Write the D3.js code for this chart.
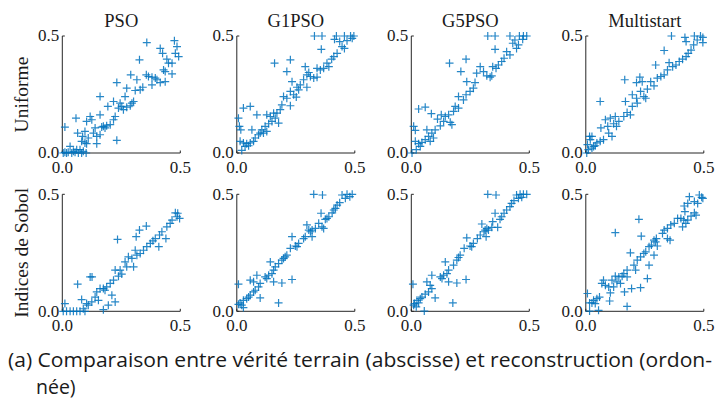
<!DOCTYPE html>
<html>
<head>
<meta charset="utf-8">
<style>
  body { margin: 0; background: #fff; }
  .title, .tick-label, .row-label { font-family: "Liberation Serif", serif; fill: #1a1a1a; }
  .caption { font-family: "Open Sans", sans-serif; fill: #1a1a1a; }
  .marker { fill: none; stroke: #0072BD; stroke-width: 1.2; stroke-opacity: 0.85; }
  .axis-line { stroke: #262626; stroke-width: 1; fill: none; }
</style>
<script src="https://d3js.org/d3.v7.min.js"></script>
</head>
<body>
<div id="chart"></div>
<script>

// column titles and row labels
var methods = ["PSO", "G1PSO", "G5PSO", "Multistart"];
var rowLabels = ["Uniforme", "Indices de Sobol"];
var tickValues = [0, 0.5];
var tickLabels = ["0.0", "0.5"];

// [vérité terrain, reconstruction]
var psoUniforme = [
  [0.358,0.472],[0.475,0.480],[0.486,0.455],[0.415,0.447],[0.425,0.426],[0.327,0.398],[0.443,0.401],
  [0.479,0.426],[0.493,0.412],[0.450,0.384],[0.465,0.384],[0.429,0.355],[0.436,0.348],[0.465,0.338],
  [0.356,0.334],[0.365,0.327],[0.380,0.324],[0.394,0.320],[0.401,0.313],[0.290,0.334],[0.316,0.313],
  [0.415,0.301],[0.436,0.305],[0.380,0.291],[0.231,0.301],[0.341,0.281],[0.330,0.270],[0.309,0.267],
  [0.273,0.277],[0.266,0.241],[0.160,0.241],[0.217,0.220],[0.245,0.213],[0.238,0.192],[0.252,0.199],
  [0.259,0.185],[0.273,0.196],[0.288,0.202],[0.295,0.213],[0.302,0.220],[0.193,0.199],[0.118,0.156],
  [0.125,0.142],[0.160,0.163],[0.058,0.149],[0.217,0.142],[0.224,0.156],[0.203,0.121],[0.188,0.116],
  [0.181,0.107],[0.174,0.114],[0.167,0.111],[0.139,0.107],[0.103,0.135],[0.096,0.092],[0.132,0.085],
  [0.160,0.078],[0.146,0.071],[0.110,0.064],[0.086,0.071],[0.065,0.085],[0.011,0.111],[0.082,0.050],
  [0.096,0.043],[0.103,0.040],[0.146,0.040],[0.231,0.054],[0.033,0.028],[0.075,0.014],[0.089,0.007],
  [0.011,0.003],[0.025,0.003],[0.040,0.000],[0.054,0.003],[0.068,0.000],[0.082,0.000],[0.101,0.000],
  [0.018,0.000],[0.004,0.000],[0.047,0.007],[0.061,0.014]
];
var g1psoUniforme = [
  [0.329,0.500],[0.361,0.500],[0.422,0.500],[0.456,0.500],[0.482,0.500],[0.496,0.500],[0.489,0.490],
  [0.414,0.486],[0.436,0.476],[0.467,0.480],[0.446,0.455],[0.456,0.447],[0.358,0.443],[0.425,0.426],
  [0.411,0.412],[0.402,0.401],[0.160,0.384],[0.227,0.398],[0.382,0.384],[0.390,0.369],[0.368,0.362],
  [0.340,0.362],[0.354,0.355],[0.212,0.348],[0.290,0.369],[0.305,0.344],[0.297,0.334],[0.312,0.327],
  [0.326,0.320],[0.340,0.324],[0.283,0.313],[0.234,0.305],[0.269,0.291],[0.255,0.281],[0.262,0.270],
  [0.227,0.263],[0.241,0.249],[0.252,0.239],[0.198,0.241],[0.212,0.234],[0.227,0.202],[0.191,0.206],
  [0.184,0.185],[0.170,0.170],[0.156,0.170],[0.028,0.192],[0.057,0.199],[0.085,0.163],[0.127,0.163],
  [0.142,0.156],[0.163,0.149],[0.177,0.128],[0.149,0.135],[0.135,0.125],[0.120,0.114],[0.106,0.099],
  [0.099,0.085],[0.092,0.078],[0.064,0.099],[0.078,0.064],[0.071,0.050],[0.057,0.043],[0.042,0.040],
  [0.028,0.043],[0.014,0.050],[0.035,0.028],[0.050,0.031],[0.007,0.149],[0.011,0.114],[0.017,0.099],
  [0.021,0.011],[0.113,0.085],[0.127,0.092],[0.297,0.281]
];
var g5psoUniforme = [
  [0.324,0.500],[0.355,0.500],[0.418,0.500],[0.458,0.500],[0.475,0.500],[0.489,0.500],[0.439,0.483],
  [0.430,0.469],[0.472,0.486],[0.454,0.462],[0.446,0.447],[0.355,0.443],[0.404,0.433],[0.418,0.419],
  [0.393,0.405],[0.383,0.391],[0.162,0.384],[0.232,0.401],[0.369,0.376],[0.345,0.369],[0.359,0.362],
  [0.210,0.348],[0.292,0.369],[0.306,0.348],[0.277,0.341],[0.320,0.330],[0.334,0.324],[0.341,0.330],
  [0.235,0.305],[0.270,0.301],[0.263,0.277],[0.249,0.263],[0.232,0.249],[0.200,0.241],[0.221,0.227],
  [0.186,0.199],[0.200,0.192],[0.179,0.178],[0.158,0.163],[0.144,0.156],[0.127,0.163],[0.031,0.188],
  [0.059,0.196],[0.085,0.168],[0.111,0.145],[0.137,0.135],[0.165,0.131],[0.172,0.121],[0.123,0.116],
  [0.101,0.099],[0.087,0.085],[0.073,0.071],[0.066,0.099],[0.059,0.057],[0.045,0.045],[0.031,0.040],
  [0.017,0.050],[0.038,0.028],[0.010,0.114],[0.017,0.097],[0.021,0.014],[0.003,0.000],[0.080,0.050],
  [0.094,0.064]
];
var multistartUniforme = [
  [0.363,0.500],[0.420,0.494],[0.460,0.500],[0.486,0.500],[0.496,0.494],[0.425,0.476],[0.472,0.483],
  [0.496,0.472],[0.457,0.462],[0.446,0.440],[0.332,0.438],[0.434,0.426],[0.425,0.412],[0.410,0.401],
  [0.396,0.391],[0.296,0.376],[0.353,0.386],[0.382,0.376],[0.368,0.369],[0.346,0.355],[0.332,0.334],
  [0.318,0.327],[0.303,0.320],[0.229,0.324],[0.165,0.313],[0.215,0.301],[0.239,0.305],[0.275,0.305],
  [0.289,0.287],[0.261,0.273],[0.232,0.263],[0.254,0.234],[0.246,0.241],[0.215,0.234],[0.197,0.249],
  [0.168,0.220],[0.218,0.213],[0.061,0.220],[0.197,0.199],[0.175,0.173],[0.189,0.163],[0.161,0.156],
  [0.125,0.156],[0.104,0.149],[0.083,0.142],[0.140,0.135],[0.118,0.125],[0.130,0.114],[0.093,0.114],
  [0.064,0.107],[0.097,0.085],[0.111,0.071],[0.075,0.057],[0.061,0.050],[0.047,0.043],[0.033,0.028],
  [0.016,0.071],[0.007,0.036],[0.026,0.071],[0.011,0.014],[0.026,0.021],[0.040,0.031],[0.004,0.000],
  [0.019,0.057]
];
var psoSobol = [
  [0.479,0.421],[0.489,0.419],[0.486,0.404],[0.497,0.397],[0.465,0.390],[0.457,0.376],[0.443,0.361],
  [0.356,0.364],[0.327,0.347],[0.313,0.319],[0.234,0.307],[0.422,0.340],[0.412,0.326],[0.439,0.311],
  [0.394,0.311],[0.384,0.301],[0.373,0.290],[0.409,0.276],[0.358,0.276],[0.344,0.261],[0.330,0.247],
  [0.316,0.240],[0.309,0.261],[0.295,0.226],[0.280,0.233],[0.266,0.211],[0.273,0.190],[0.302,0.190],
  [0.245,0.176],[0.252,0.159],[0.238,0.150],[0.224,0.176],[0.217,0.133],[0.203,0.119],[0.188,0.104],
  [0.174,0.097],[0.160,0.097],[0.181,0.090],[0.146,0.083],[0.139,0.061],[0.118,0.147],[0.126,0.147],
  [0.065,0.116],[0.210,0.069],[0.224,0.040],[0.195,0.026],[0.174,0.007],[0.153,0.047],[0.125,0.040],
  [0.110,0.026],[0.103,0.033],[0.082,0.050],[0.089,0.011],[0.075,0.000],[0.061,0.000],[0.047,0.000],
  [0.033,0.000],[0.018,0.000],[0.004,0.000],[0.011,0.033],[0.096,0.000]
];
var g1psoSobol = [
  [0.326,0.500],[0.363,0.497],[0.446,0.497],[0.467,0.500],[0.489,0.500],[0.479,0.490],[0.460,0.483],
  [0.436,0.464],[0.425,0.454],[0.418,0.440],[0.411,0.433],[0.404,0.421],[0.357,0.419],[0.390,0.404],
  [0.375,0.393],[0.382,0.397],[0.347,0.376],[0.297,0.369],[0.361,0.361],[0.368,0.354],[0.333,0.354],
  [0.319,0.347],[0.312,0.340],[0.305,0.347],[0.290,0.319],[0.283,0.311],[0.319,0.319],[0.234,0.319],
  [0.262,0.290],[0.255,0.276],[0.248,0.279],[0.227,0.269],[0.212,0.240],[0.205,0.233],[0.198,0.226],
  [0.191,0.219],[0.177,0.204],[0.142,0.211],[0.163,0.190],[0.156,0.176],[0.149,0.161],[0.135,0.154],
  [0.120,0.147],[0.127,0.140],[0.085,0.154],[0.057,0.133],[0.071,0.126],[0.099,0.119],[0.156,0.126],
  [0.191,0.121],[0.234,0.136],[0.092,0.104],[0.078,0.090],[0.071,0.083],[0.057,0.069],[0.050,0.061],
  [0.042,0.054],[0.099,0.057],[0.028,0.047],[0.014,0.036],[0.007,0.116],[0.021,0.026],[0.028,0.016],
  [0.177,0.036],[0.007,0.030]
];
var g5psoSobol = [
  [0.324,0.500],[0.359,0.497],[0.446,0.497],[0.461,0.500],[0.475,0.500],[0.489,0.500],[0.468,0.487],
  [0.454,0.483],[0.435,0.473],[0.425,0.461],[0.418,0.447],[0.404,0.433],[0.393,0.419],[0.355,0.419],
  [0.383,0.404],[0.376,0.393],[0.345,0.383],[0.299,0.373],[0.366,0.359],[0.341,0.359],[0.327,0.347],
  [0.313,0.347],[0.320,0.354],[0.308,0.340],[0.292,0.326],[0.280,0.311],[0.317,0.319],[0.235,0.314],
  [0.263,0.290],[0.256,0.276],[0.249,0.279],[0.224,0.269],[0.207,0.240],[0.200,0.230],[0.193,0.219],
  [0.179,0.197],[0.144,0.211],[0.158,0.176],[0.151,0.161],[0.137,0.154],[0.123,0.147],[0.130,0.140],
  [0.087,0.154],[0.066,0.126],[0.080,0.111],[0.158,0.126],[0.193,0.121],[0.232,0.136],[0.087,0.097],
  [0.073,0.083],[0.059,0.073],[0.045,0.061],[0.038,0.054],[0.101,0.057],[0.024,0.047],[0.014,0.033],
  [0.007,0.116],[0.010,0.026],[0.021,0.019],[0.055,0.001],[0.176,0.036],[0.031,0.036]
];
var multistartSobol = [
  [0.481,0.497],[0.491,0.487],[0.496,0.483],[0.439,0.490],[0.460,0.469],[0.474,0.461],[0.432,0.461],
  [0.417,0.450],[0.420,0.426],[0.460,0.421],[0.446,0.407],[0.467,0.411],[0.389,0.397],[0.403,0.397],
  [0.415,0.390],[0.432,0.390],[0.424,0.376],[0.410,0.361],[0.225,0.393],[0.375,0.376],[0.360,0.369],
  [0.346,0.354],[0.332,0.347],[0.325,0.333],[0.346,0.311],[0.357,0.304],[0.299,0.311],[0.296,0.297],
  [0.289,0.304],[0.278,0.283],[0.268,0.276],[0.303,0.279],[0.235,0.321],[0.125,0.336],[0.254,0.254],
  [0.246,0.247],[0.232,0.233],[0.218,0.219],[0.189,0.250],[0.204,0.197],[0.211,0.176],[0.289,0.240],
  [0.268,0.197],[0.175,0.176],[0.161,0.161],[0.175,0.147],[0.154,0.150],[0.140,0.147],[0.125,0.150],
  [0.111,0.133],[0.132,0.126],[0.147,0.119],[0.075,0.133],[0.068,0.119],[0.083,0.111],[0.097,0.104],
  [0.118,0.104],[0.104,0.079],[0.164,0.083],[0.194,0.097],[0.232,0.101],[0.261,0.140],[0.058,0.061],
  [0.047,0.054],[0.033,0.047],[0.026,0.036],[0.040,0.033],[0.016,0.036],[0.007,0.076],[0.101,0.044],
  [0.175,0.021],[0.016,0.001],[0.054,0.004]
];

var panels = [
  [psoUniforme, g1psoUniforme, g5psoUniforme, multistartUniforme],
  [psoSobol, g1psoSobol, g5psoSobol, multistartSobol]
];

var width = 716, height = 406;
var plotW = 118, plotH = 117;
var lefts = [62.3, 236.8, 411.3, 585.8];
var tops = [36, 194.3];

var svg = d3.select("#chart")
  .append("svg")
    .attr("width", width)
    .attr("height", height);

var plus = "M-4,0H4M0,-4V4";

panels.forEach(function(row, r) {
  row.forEach(function(data, c) {
    var x = d3.scaleLinear().domain([0, 0.5]).range([lefts[c], lefts[c] + plotW]);
    var y = d3.scaleLinear().domain([0, 0.5]).range([tops[r] + plotH, tops[r]]);
    var g = svg.append("g");

    // axes: left and bottom only, small inward ticks
    g.append("path")
      .attr("class", "axis-line")
      .attr("d", "M" + x(0) + "," + y(0.5) + "V" + y(0) + "H" + x(0.5));
    tickValues.forEach(function(t) {
      g.append("path").attr("class", "axis-line")
        .attr("d", "M" + x(0) + "," + y(t) + "h2.5");
      g.append("path").attr("class", "axis-line")
        .attr("d", "M" + x(t) + "," + y(0) + "v-2.5");
    });

    // tick labels
    g.selectAll(".ylab")
      .data(tickValues)
      .enter().append("text")
        .attr("class", "tick-label")
        .attr("x", x(0) - 3)
        .attr("y", function(d) { return y(d); })
        .attr("dy", "0.32em")
        .attr("text-anchor", "end")
        .style("font-size", "17px")
        .text(function(d, i) { return tickLabels[i]; });
    g.selectAll(".xlab")
      .data(tickValues)
      .enter().append("text")
        .attr("class", "tick-label")
        .attr("x", function(d) { return x(d); })
        .attr("y", y(0) + 14)
        .attr("dy", "0.35em")
        .attr("text-anchor", "middle")
        .style("font-size", "17px")
        .text(function(d, i) { return tickLabels[i]; });

    // markers
    g.selectAll(".marker")
      .data(data)
      .enter().append("path")
        .attr("class", "marker")
        .attr("d", plus)
        .attr("transform", function(d) { return "translate(" + x(d[0]) + "," + y(d[1]) + ")"; });

    if (r === 0) {
      svg.append("text")
        .attr("class", "title")
        .attr("x", lefts[c] + plotW / 2)
        .attr("y", 26.5)
        .attr("text-anchor", "middle")
        .style("font-size", "18.5px")
        .text(methods[c]);
    }
  });

  svg.append("text")
    .attr("class", "row-label")
    .attr("transform", "translate(21," + (tops[r] + plotH / 2) + ") rotate(-90)")
    .attr("dy", "0.35em")
    .attr("text-anchor", "middle")
    .style("font-size", "19.5px")
    .text(rowLabels[r]);
});

// caption
var cap = svg.append("g").attr("class", "caption").style("font-size", "19.5px");
cap.append("text").attr("x", 8).attr("y", 367)
  .attr("textLength", 704).attr("lengthAdjust", "spacingAndGlyphs")
  .text("(a) Comparaison entre vérité terrain (abscisse) et reconstruction (ordon-");
cap.append("text").attr("x", 36).attr("y", 394)
  .text("née)");

</script>
</body>
</html>
